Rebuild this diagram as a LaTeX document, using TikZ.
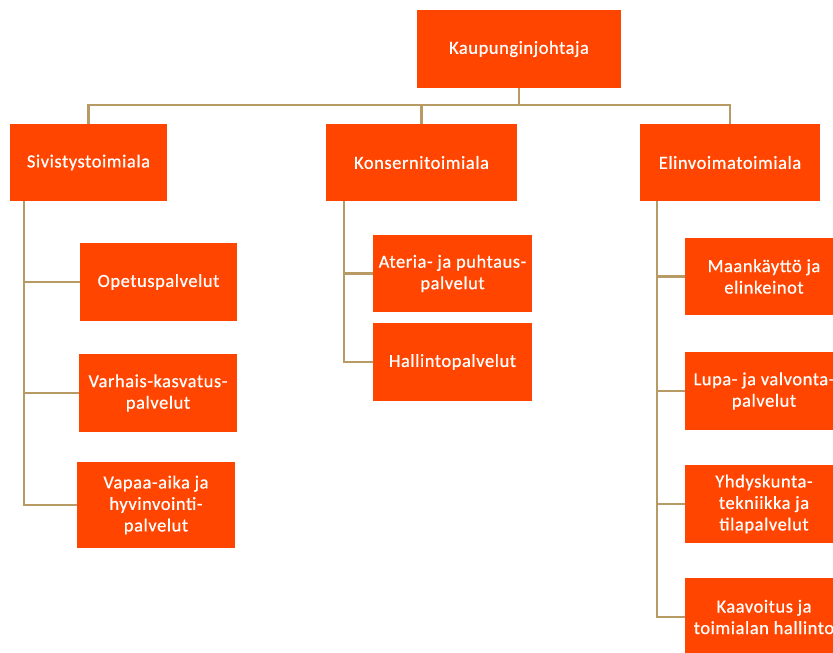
\documentclass[tikz,border=0pt]{standalone}
\usepackage{fontspec}
\setmainfont{Carlito}[LetterSpace=3,FakeBold=0.6]
\definecolor{boxorange}{HTML}{FF4500}
\definecolor{linktan}{HTML}{B89A64}
\begin{document}
\begin{tikzpicture}[x=1pt,y=-1pt,
  box/.style={fill=boxorange, text=white, align=center, inner sep=2pt,
    font=\fontsize{18.5}{21.5}\selectfont},
  link/.style={draw=linktan, line width=2.2pt}]
\useasboundingbox (0,0) rectangle (833,653);
\begin{scope}
\clip (0,0) rectangle (833,653);
% level 0
\node[box, minimum width=204, minimum height=78] (k) at (519,49) {Kaupunginjohtaja};
% level 1
\node[box, minimum width=157, minimum height=77] (siv) at (88.5,162.5) {Sivistystoimiala};
\node[box, minimum width=191, minimum height=77] (kons) at (421.5,162.5) {Konsernitoimiala};
\node[box, minimum width=180, minimum height=77] (elin) at (730,162.5) {Elinvoimatoimiala};
% left column
\node[box, minimum width=157, minimum height=78] (opet) at (158.5,282) {Opetuspalvelut};
\node[box, minimum width=158, minimum height=78] (varh) at (158,393) {Varhais-kasvatus-\\palvelut};
\node[box, minimum width=158, minimum height=86] (vapa) at (156,505) {Vapaa-aika ja\\hyvinvointi-\\palvelut};
% middle column
\node[box, minimum width=159, minimum height=77] (ater) at (452.5,273.5) {Ateria- ja puhtaus-\\palvelut};
\node[box, minimum width=159, minimum height=78] (hall) at (452.5,362) {Hallintopalvelut};
% right column
\node[box, minimum width=158, minimum height=77] (maan) at (764,276.5) {Maankäyttö ja\\elinkeinot};
\node[box, minimum width=158, minimum height=78] (lupa) at (764,391) {Lupa- ja valvonta-\\palvelut};
\node[box, minimum width=158, minimum height=78] (yhd) at (764,504) {Yhdyskunta-\\tekniikka ja\\tilapalvelut};
\node[box, minimum width=158, minimum height=78] (kaav) at (764,617) {Kaavoitus ja\\toimialan hallinto};
% connectors
\draw[link] (k.south) -- ++(0,17) coordinate (bus);
\draw[link] (siv.north) -- (siv.north |- bus) -- (elin.north |- bus) -- (elin.north);
\draw[link] (kons.north) -- (kons.north |- bus);
\coordinate (sl) at ([xshift=-64.5]siv.south);
\draw[link] (sl) |- (vapa.west);
\draw[link] (sl |- opet.west) -- (opet.west);
\draw[link] (sl |- varh.west) -- (varh.west);
\coordinate (ml) at ([xshift=-77.5]kons.south);
\draw[link] (ml) |- (hall.west);
\draw[link] (ml |- ater.west) -- (ater.west);
\coordinate (rl) at ([xshift=-73]elin.south);
\draw[link] (rl) |- (kaav.west);
\draw[link] (rl |- maan.west) -- (maan.west);
\draw[link] (rl |- lupa.west) -- (lupa.west);
\draw[link] (rl |- yhd.west) -- (yhd.west);
\end{scope}
\end{tikzpicture}
\end{document}
